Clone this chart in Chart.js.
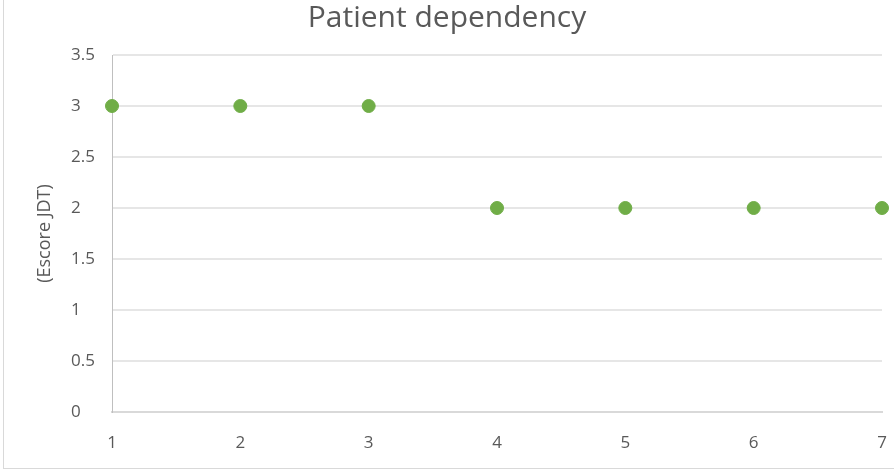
<!DOCTYPE html>
<html>
<head>
<meta charset="utf-8">
<script src="https://cdn.jsdelivr.net/npm/chart.js@4/dist/chart.umd.min.js"></script>
<style>
    html, body { margin: 0; padding: 0; background: #fff; }
    #wrap { position: relative; width: 894px; height: 471px; }
    #frame {
        position: absolute; left: 3px; top: -2px; width: 900px; height: 470px;
        border-left: 1px solid #d9d9d9; border-bottom: 1px solid #d9d9d9;
        pointer-events: none;
    }
</style>
</head>
<body>
<div id="wrap">
    <canvas id="depChart" width="894" height="471"></canvas>
    <div id="frame"></div>
</div>
<script>
// Dati del grafico
const days = [1, 2, 3, 4, 5, 6, 7];
const scores = [3, 3, 3, 2, 2, 2, 2];
const yTicks = [0, 0.5, 1, 1.5, 2, 2.5, 3, 3.5];

const grey = '#595959';

// Sposta il bordo sinistro dell'asse y per allineare a sinistra le etichette
const shiftYLabels = {
    id: 'shiftYLabels',
    afterLayout: chart => { chart.scales.y.left = 71; }
};

const ctx = document.getElementById('depChart');
new Chart(ctx, {
    type: 'scatter',
    data: {
        datasets: [{
            label: 'Escore JDT',
            data: days.map((d, i) => ({ x: d, y: scores[i] })),
            backgroundColor: '#70ad47',
            borderColor: '#70ad47',
            pointRadius: 6.5,
            pointHoverRadius: 6.5,
            clip: false
        }]
    },
    plugins: [shiftYLabels],
    options: {
        responsive: false,
        animation: false,
        layout: { padding: 0 },
        plugins: {
            legend: { display: false },
            tooltip: { enabled: false },
            title: {
                display: true,
                text: 'Patient dependency',
                color: grey,
                font: { family: 'Open Sans', size: 30, weight: 'normal' },
                padding: { top: 0, bottom: 19 }
            }
        },
        scales: {
            x: {
                type: 'linear',
                min: 1,
                max: 7,
                ticks: {
                    stepSize: 1,
                    color: grey,
                    padding: 21,
                    font: { family: 'Open Sans', size: 17 }
                },
                grid: { display: false, drawTicks: false },
                border: { display: true, color: '#d9d9d9', width: 2 },
                afterFit: scale => {
                    scale.height = 59;
                    scale.paddingRight = 12;
                }
            },
            y: {
                min: 0,
                max: 3.5,
                afterBuildTicks: scale => { scale.ticks = yTicks.map(v => ({ value: v })); },
                ticks: {
                    color: grey,
                    crossAlign: 'far',
                    callback: v => String(v),
                    font: { family: 'Open Sans', size: 17 }
                },
                grid: { color: '#e6e6e6', lineWidth: 2, drawTicks: false },
                border: { display: true, color: '#bfbfbf', width: 1 },
                title: {
                    display: true,
                    text: '(Escore JDT)',
                    color: grey,
                    font: { family: 'Open Sans', size: 18 },
                    padding: { top: -37, bottom: 0 }
                },
                afterFit: scale => { scale.width = 112; }
            }
        }
    }
});
</script>
</body>
</html>
